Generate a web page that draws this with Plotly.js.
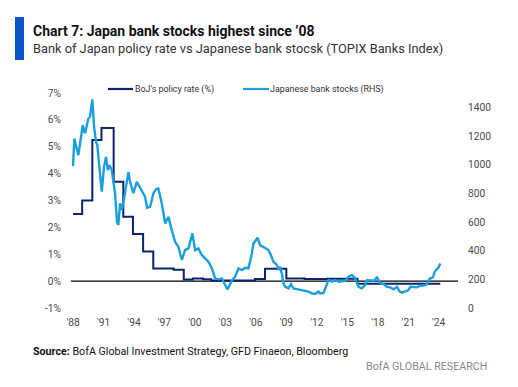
<!DOCTYPE html>
<html>
<head>
<meta charset="utf-8">
<script src="https://cdn.plot.ly/plotly-3.0.1.min.js"></script>
<style>
html,body{margin:0;padding:0;background:#fff;}
#chart{width:518px;height:387px;}
</style>
</head>
<body>
<div id="chart"></div>
<script>
// BoJ policy rate (%), step series
const bojYears = [1988.0, 1988.9, 1989.9, 1990.8, 1992.0, 1992.95, 1993.9, 1994.9, 1995.9, 1997.9, 1998.9, 1999.8, 2000.8, 2001.6, 2005.9, 2006.9, 2009.0, 2010.8, 2013.0, 2016.0, 2024.15];
const bojRate  = [2.5, 3.0, 5.25, 5.7, 3.7, 2.4, 1.75, 1.1, 0.47, 0.42, 0.06, 0.1, 0.07, 0.02, 0.08, 0.46, 0.1, 0.08, 0.09, -0.1, -0.1];

// TOPIX Banks Index (RHS)
const stockYears = [1988.0, 1988.13, 1988.52, 1988.96, 1989.18, 1989.51, 1989.67, 1989.9, 1990.07, 1990.27, 1990.39, 1990.66, 1990.83, 1991.05, 1991.25, 1991.42, 1991.58, 1991.81, 1992.14, 1992.33, 1992.46, 1992.63, 1992.8, 1993.02, 1993.45, 1993.62, 1993.94, 1994.28, 1994.5, 1994.77, 1995.09, 1995.29, 1995.59, 1995.91, 1996.18, 1996.4, 1996.57, 1996.74, 1997.07, 1997.39, 1997.72, 1998.05, 1998.37, 1998.71, 1999.03, 1999.36, 1999.75, 2000.02, 2000.34, 2000.68, 2001.0, 2001.33, 2001.67, 2001.99, 2002.32, 2002.65, 2002.98, 2003.2, 2003.64, 2003.96, 2004.29, 2004.62, 2004.95, 2005.27, 2005.61, 2005.76, 2005.93, 2006.16, 2006.42, 2006.75, 2007.24, 2007.41, 2007.73, 2008.07, 2008.23, 2008.39, 2008.56, 2008.72, 2008.89, 2009.21, 2009.45, 2009.7, 2010.2, 2010.69, 2011.18, 2011.52, 2011.84, 2012.17, 2012.33, 2012.66, 2012.93, 2013.15, 2013.49, 2013.81, 2014.14, 2014.47, 2014.8, 2015.12, 2015.46, 2015.78, 2016.11, 2016.44, 2016.77, 2016.94, 2017.26, 2017.59, 2017.92, 2018.25, 2018.57, 2018.91, 2019.23, 2019.56, 2019.89, 2020.15, 2020.38, 2020.71, 2021.03, 2021.2, 2021.53, 2021.86, 2022.19, 2022.51, 2022.85, 2023.0, 2023.17, 2023.44, 2023.6, 2023.76, 2023.89, 2023.99, 2024.16];
const stockIdx   = [990, 1183, 1066, 1275, 1218, 1322, 1333, 1455, 1264, 1159, 1136, 904, 811, 985, 1055, 962, 997, 962, 800, 600, 579, 731, 683, 760, 950, 880, 801, 880, 850, 822, 776, 700, 706, 799, 830, 834, 790, 730, 590, 636, 543, 462, 427, 335, 404, 416, 521, 404, 416, 369, 346, 323, 277, 207, 200, 207, 160, 130, 190, 218, 277, 265, 280, 277, 380, 451, 465, 490, 439, 427, 404, 381, 323, 300, 265, 288, 240, 172, 148, 137, 167, 137, 130, 125, 114, 102, 98, 114, 102, 105, 148, 195, 183, 195, 183, 186, 190, 218, 230, 207, 148, 137, 160, 195, 190, 190, 214, 176, 167, 148, 144, 130, 148, 114, 107, 114, 125, 148, 144, 144, 155, 157, 165, 195, 207, 214, 253, 265, 270, 284, 311];

// Axis ticks
const xTickVals = [1988, 1991, 1994, 1997, 2000, 2003, 2006, 2009, 2012, 2015, 2018, 2021, 2024];
const xTickText = ["'88", "'91", "'94", "'97", "'00", "'03", "'06", "'09", "'12", "'15", "'18", "'21", "'24"];
const yLeftTicks = [-1, 0, 1, 2, 3, 4, 5, 6, 7];
const yLeftText = ["-1%", "0%", "1%", "2%", "3%", "4%", "5%", "6%", "7%"];
const yRightTicks = [0, 200, 400, 600, 800, 1000, 1200, 1400];

const seriesNames = ["BoJ's policy rate (%)", "Japanese bank stocks (RHS)"];
const titleText = 'Chart 7: Japan bank stocks highest since ’08';
const subtitleText = 'Bank of Japan policy rate vs Japanese bank stocsk (TOPIX Banks Index)';
const sourceText = 'Source: BofA Global Investment Strategy, GFD Finaeon, Bloomberg';
const brandText = 'BofA GLOBAL RESEARCH';

const NAVY = '#0a2470';
const LIGHT = '#1aa0dd';
const FAMILY = 'Roboto';
const FONT = 'Roboto, "Liberation Sans", Arial, sans-serif';

// size a text so that it spans the width it has in the reference
const cv = document.createElement('canvas').getContext('2d');
function fit(text, weight, target) {
  cv.font = weight + ' 20px ' + FAMILY;
  const w = cv.measureText(text).width;
  return Math.round(20 * target / w * 10) / 10;
}
const sTitle = fit(titleText, 'bold', 282);
const sSub = fit(subtitleText, 'normal', 412);
const sLeg = Math.min(fit(seriesNames[0], 'normal', 82), fit(seriesNames[1], 'normal', 114));
const sSrc = fit(sourceText.replace('Source:', ''), 'normal', 278);
const sBrand = fit(brandText, 'normal', 122);
const sTick = fit('1400', 'normal', 23);

const px = v => (v - 71) / 387;      // pixel x -> paper
const py = v => (308 - v) / 215;     // pixel y -> paper

const traces = [
  {x: bojYears, y: bojRate, type: 'scatter', mode: 'lines', name: seriesNames[0],
   line: {color: NAVY, width: 2, shape: 'hv'}, yaxis: 'y', hoverinfo: 'skip'},
  {x: stockYears, y: stockIdx, type: 'scatter', mode: 'lines', name: seriesNames[1],
   line: {color: LIGHT, width: 2.4}, yaxis: 'y2', hoverinfo: 'skip'}
];

const tf = {family: FONT, size: sTick, color: '#4a4a4a'};
const layout = {
  width: 518, height: 387,
  margin: {l: 71, r: 60, t: 93, b: 79},
  paper_bgcolor: '#ffffff', plot_bgcolor: '#ffffff',
  showlegend: false,
  font: {family: FONT, size: 11, color: '#444'},
  xaxis: {range: [1987.8, 2025.9], tickvals: xTickVals, ticktext: xTickText,
          showgrid: false, zeroline: false, showline: false, ticks: '',
          tickfont: tf, ticklabelstandoff: 7},
  yaxis: {range: [-1, 7], tickvals: yLeftTicks, ticktext: yLeftText,
          showgrid: false, zeroline: false, showline: false, ticks: '',
          tickfont: tf, ticklabelstandoff: 9},
  yaxis2: {range: [0, 1500], tickvals: yRightTicks, overlaying: 'y', side: 'right',
           showgrid: false, zeroline: false, showline: false, ticks: '',
           tickfont: tf, ticklabelstandoff: 9},
  shapes: [
    {type: 'rect', xref: 'paper', yref: 'paper', x0: px(15), x1: px(24), y0: py(60), y1: py(17),
     line: {width: 0}, fillcolor: '#0b55c4'},
    {type: 'line', xref: 'paper', yref: 'y', x0: 0, x1: 1, y0: 0, y1: 0,
     line: {color: '#000', width: 1.2}, layer: 'below'},
    {type: 'line', xref: 'paper', yref: 'paper', x0: px(108), x1: px(133), y0: py(89), y1: py(89),
     line: {color: NAVY, width: 2.2}},
    {type: 'line', xref: 'paper', yref: 'paper', x0: px(243), x1: px(269), y0: py(89), y1: py(89),
     line: {color: LIGHT, width: 2.2}}
  ],
  annotations: [
    {xref: 'paper', yref: 'paper', x: px(133), y: py(89), xanchor: 'left', yanchor: 'middle',
     text: seriesNames[0], showarrow: false, font: {family: FONT, size: sLeg, color: '#333'}},
    {xref: 'paper', yref: 'paper', x: px(268), y: py(89), xanchor: 'left', yanchor: 'middle',
     text: seriesNames[1], showarrow: false, font: {family: FONT, size: sLeg, color: '#333'}},
    {xref: 'paper', yref: 'paper', x: px(31), y: py(31), xanchor: 'left', yanchor: 'middle',
     text: '<b>' + titleText + '</b>', showarrow: false,
     font: {family: FONT, size: sTitle, color: '#111'}},
    {xref: 'paper', yref: 'paper', x: px(31), y: py(49), xanchor: 'left', yanchor: 'middle',
     text: subtitleText, showarrow: false,
     font: {family: FONT, size: sSub, color: '#333'}},
    {xref: 'paper', yref: 'paper', x: px(31), y: py(351), xanchor: 'left', yanchor: 'middle',
     text: sourceText.replace('Source:', '<b>Source:</b>'), showarrow: false,
     font: {family: FONT, size: sSrc, color: '#111'}},
    {xref: 'paper', yref: 'paper', x: px(489), y: py(366), xanchor: 'right', yanchor: 'middle',
     text: brandText, showarrow: false,
     font: {family: FONT, size: sBrand, color: '#888'}}
  ]
};

Plotly.newPlot('chart', traces, layout, {displayModeBar: false, staticPlot: true});
</script>
</body>
</html>
